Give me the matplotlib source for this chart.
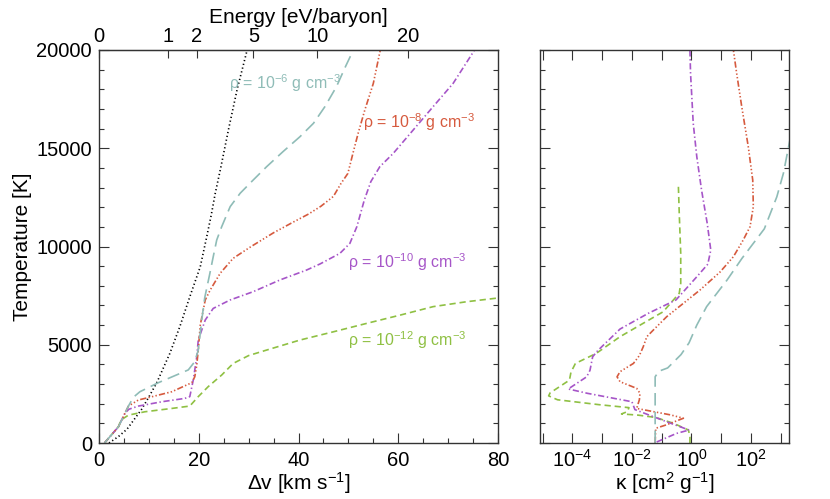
import numpy as np
import matplotlib
matplotlib.use("Agg")
import matplotlib.pyplot as plt
from matplotlib.ticker import MultipleLocator, NullLocator, FixedLocator

plt.rcParams['font.family'] = ['Liberation Sans', 'DejaVu Sans']
plt.rcParams['mathtext.fontset'] = 'custom'
plt.rcParams['mathtext.rm'] = 'Liberation Sans'
plt.rcParams['mathtext.it'] = 'Liberation Sans:italic'
plt.rcParams['lines.scale_dashes'] = False

# ---------------- data: left panel (dv [km/s], T [K]) ----------------
dv_thermal = [2.0, 3.9, 5.6, 8.5, 9.9, 11.6, 14.2, 16.2, 18.2, 20.3, 21.6, 22.5, 23.3, 24.4, 26.0, 27.7, 29.7]
T_thermal = [0, 330, 700, 1700, 2300, 3080, 4560, 5920, 7440, 8970, 10500, 11600, 12700, 14000, 16000, 18000, 20000]

dv_rho6 = [1.1, 3.9, 5.9, 6.9, 8.2, 11.9, 17.9, 19.2, 19.9, 20.6, 21.2, 22.2, 22.9, 23.6, 24.6, 26.3, 28.3, 30.9,
           33.6, 36.9, 40.3, 43.0, 45.3, 47.6, 49.5, 51.0]
T_rho6 = [0, 830, 1880, 2330, 2610, 3070, 3720, 4140, 4730, 6260, 7400, 8600, 9480, 10330, 11010, 12030, 12710, 13380,
          14060, 14830, 15590, 16270, 17120, 18130, 19200, 20000]

dv_rho8 = [1.1, 3.9, 5.9, 7.9, 10.2, 14.6, 18.6, 19.2, 19.6, 19.9, 20.3, 21.3, 22.3, 24.3, 26.9, 30.5, 35.0, 39.0,
           42.0, 44.5, 47.0, 48.5, 49.9, 51.0, 52.0, 53.3, 55.0, 56.4]
T_rho8 = [0, 830, 1880, 2190, 2330, 2610, 3070, 3370, 3970, 4730, 6000, 7280, 7790, 8640, 9400, 10000, 10700, 11250,
          11650, 12050, 12550, 13200, 13720, 14830, 15800, 16950, 18300, 20000]

dv_rho10 = [1.1, 3.9, 5.2, 6.0, 7.9, 12.6, 17.2, 18.2, 18.9, 19.6, 19.9, 21.3, 22.9, 26.3, 30.9, 36.3, 41.6, 44.3,
            48.3, 50.3, 51.7, 53.2, 54.5, 56.3, 59.0, 63.0, 67.0, 71.0, 75.3]
T_rho10 = [0, 830, 1520, 1720, 1880, 2100, 2270, 2360, 3210, 4390, 5240, 6260, 6850, 7280, 7700, 8300, 8800, 9110,
           9650, 10160, 11010, 12370, 13300, 14060, 14740, 15930, 17120, 18300, 20000]

dv_rho12 = [1.1, 3.9, 4.4, 5.9, 9.2, 14.6, 18.2, 19.9, 21.9, 24.6, 26.9, 30.0, 33.6, 40.3, 47.0, 53.7, 60.4, 67.0,
            73.7, 80.0]
T_rho12 = [0, 830, 1170, 1420, 1590, 1760, 1880, 2360, 2870, 3460, 4050, 4450, 4730, 5240, 5660, 6090, 6510, 6940,
           7190, 7380]

# ---------------- data: right panel (log10 kappa [cm^2/g], T [K]) ----------------
logk_rho6 = [-1.22, -1.22, -1.10, -0.80, -0.35, -0.08, 0.18, 0.51, 1.20, 1.70, 2.10, 2.45, 2.87, 3.09, 3.31]
Tk_rho6 = [0, 3370, 3650, 3820, 4500, 5100, 6000, 6940, 8300, 9400, 10200, 10900, 12530, 13720, 15420]

logk_rho8 = [-1.22, -1.20, -0.85, -0.27, -0.70, -1.84, -1.75, -1.73, -1.84, -2.40, -2.50, -2.40, -1.95, -1.75,
             -1.62, -1.50, -1.28, -0.83, -0.27, 0.29, 0.96, 1.41, 1.74, 1.97, 2.08, 2.06, 1.91, 1.69, 1.52, 1.41]
Tk_rho8 = [0, 750, 920, 1260, 1430, 1760, 2200, 2530, 2780, 3120, 3370, 3630, 4050, 4450,
           4900, 5410, 5750, 6430, 7110, 7790, 8700, 9480, 10330, 11010, 12030, 13380, 15080, 17120, 18810, 20000]

logk_rho10 = [-1.17, -0.50, -0.08, -0.83, -1.90, -2.00, -3.50, -4.14, -3.52, -3.41, -3.32, -3.15, -2.40, -1.45,
              -0.52, 0.18, 0.55, 0.65, 0.53, 0.34, 0.18, 0.06, -0.03, -0.05]
Tk_rho10 = [50, 490, 660, 1080, 1700, 2100, 2530, 2750, 3370, 3700, 4390, 4700, 5800, 6600,
            7280, 8460, 9100, 9820, 11180, 12870, 14570, 16270, 18810, 20000]

logk_rho12 = [-0.05, -0.05, -0.10, -0.60, -1.20, -1.80, -2.35, -2.15, -2.10, -3.10, -4.50, -4.80, -4.75, -4.10,
              -4.05, -3.90, -3.20, -2.40, -0.95, -0.41, -0.36, -0.36, -0.41, -0.44]
Tk_rho12 = [0, 300, 660, 1000, 1300, 1420, 1480, 1600, 1800, 1950, 2200, 2400, 2550, 3200,
            3600, 4050, 4560, 5410, 6680, 7620, 8130, 9650, 11690, 13130]

labels = ["ρ = 10$^{-6}$ g cm$^{-3}$", "ρ = 10$^{-8}$ g cm$^{-3}$",
          "ρ = 10$^{-10}$ g cm$^{-3}$", "ρ = 10$^{-12}$ g cm$^{-3}$"]
energy_ticks = [0, 1, 2, 5, 10, 20]
kappa_tick_exps = [-5, -4, -3, -2, -1, 0, 1, 2, 3]
kappa_label_exps = [-4, -2, 0, 2]

# ---------------- styles ----------------
c6, c8, c10, c12 = '#8fbcb7', '#d65a3e', '#a655c8', '#8fc043'
ls6 = (0, (9.0, 4.5))
ls8 = (0, (4.5, 1.6, 1.0, 1.6, 1.0, 1.6, 1.0, 1.6))
ls10 = (0, (4.5, 1.9, 1.0, 1.9))
ls12 = (0, (4.5, 2.8))
lsth = (0, (0.9, 1.9))
lw = 1.2
axcol = '#333333'
fs_tick = 14.5
fs_axis = 15

fig = plt.figure(figsize=(8.3, 4.99), dpi=100)
ax1 = fig.add_axes([0.1193, 0.1122, 0.4807, 0.7876])
ax2 = fig.add_axes([0.6506, 0.1122, 0.3004, 0.7876])

ax1.plot(dv_thermal, T_thermal, color='black', lw=lw, ls=lsth)
ax1.plot(dv_rho12, T_rho12, color=c12, lw=lw, ls=ls12)
ax1.plot(dv_rho10, T_rho10, color=c10, lw=lw, ls=ls10)
ax1.plot(dv_rho8, T_rho8, color=c8, lw=lw, ls=ls8)
ax1.plot(dv_rho6, T_rho6, color=c6, lw=lw, ls=ls6)

fs_lab = 11.5
ax1.text(26.1, 18320, labels[0], color=c6, fontsize=fs_lab, ha='left', va='center')
ax1.text(52.9, 16340, labels[1], color=c8, fontsize=fs_lab, ha='left', va='center')
ax1.text(49.9, 9210, labels[2], color=c10, fontsize=fs_lab, ha='left', va='center')
ax1.text(49.9, 5240, labels[3], color=c12, fontsize=fs_lab, ha='left', va='center')

ax1.set_xlim(0, 80)
ax1.set_ylim(0, 20000)
ax1.xaxis.set_major_locator(MultipleLocator(20))
ax1.xaxis.set_minor_locator(MultipleLocator(5))
ax1.yaxis.set_major_locator(MultipleLocator(5000))
ax1.yaxis.set_minor_locator(MultipleLocator(1000))
ax1.set_xlabel("Δv [km s$^{-1}$]", fontsize=fs_axis, labelpad=0)
ax1.set_ylabel("Temperature [K]", fontsize=fs_axis, labelpad=3)

M_P = 1.6726e-24
EV = 1.602e-12


def v2e(v):
    return 0.5 * M_P * (np.asarray(v, dtype=float) * 1e5) ** 2 / EV


def e2v(e):
    return np.sqrt(np.clip(np.asarray(e, dtype=float), 0, None) * 2 * EV / M_P) / 1e5


sec = ax1.secondary_xaxis('top', functions=(v2e, e2v))
sec.xaxis.set_major_locator(FixedLocator(energy_ticks))
sec.xaxis.set_minor_locator(NullLocator())
sec.set_xticklabels([str(e) for e in energy_ticks])
sec.set_xlabel("Energy [eV/baryon]", fontsize=fs_axis, labelpad=3)
sec.tick_params(axis='x', direction='in', length=6, width=0.8, colors=axcol, labelcolor='black',
                labelsize=fs_tick, pad=3)
for s in sec.spines.values():
    s.set_color(axcol)

ax1.tick_params(which='both', direction='in', top=False, right=True, colors=axcol, labelcolor='black',
                labelsize=fs_tick)
ax1.tick_params(which='major', length=7, width=0.8)
ax1.tick_params(which='minor', length=3.5, width=0.8)
ax1.tick_params(axis='x', pad=6)
ax1.tick_params(axis='y', pad=5)

# right panel
ax2.plot(10.0 ** np.array(logk_rho12), Tk_rho12, color=c12, lw=lw, ls=ls12)
ax2.plot(10.0 ** np.array(logk_rho10), Tk_rho10, color=c10, lw=lw, ls=ls10)
ax2.plot(10.0 ** np.array(logk_rho8), Tk_rho8, color=c8, lw=lw, ls=ls8)
ax2.plot(10.0 ** np.array(logk_rho6), Tk_rho6, color=c6, lw=lw, ls=ls6)
ax2.set_xscale('log')
ax2.set_xlim(10 ** -5.09, 10 ** 3.29)
ax2.set_ylim(0, 20000)
ax2.set_xticks([10.0 ** e for e in kappa_tick_exps])
ax2.set_xticklabels([("10$^{%d}$" % e) if e in kappa_label_exps else "" for e in kappa_tick_exps])
ax2.xaxis.set_minor_locator(NullLocator())
ax2.yaxis.set_major_locator(MultipleLocator(5000))
ax2.yaxis.set_minor_locator(MultipleLocator(1000))
ax2.set_yticklabels([])
ax2.tick_params(which='both', direction='in', top=True, right=True, colors=axcol, labelcolor='black',
                labelsize=fs_tick)
ax2.tick_params(which='major', length=7, width=0.8)
ax2.tick_params(which='minor', length=3.5, width=0.8)
ax2.tick_params(axis='x', pad=4)
ax2.set_xlabel("κ [cm$^{2}$ g$^{-1}$]", fontsize=fs_axis, labelpad=0)

for ax in (ax1, ax2):
    for s in ax.spines.values():
        s.set_color(axcol)
        s.set_linewidth(1.0)

fig.savefig("out.png", dpi=100)
